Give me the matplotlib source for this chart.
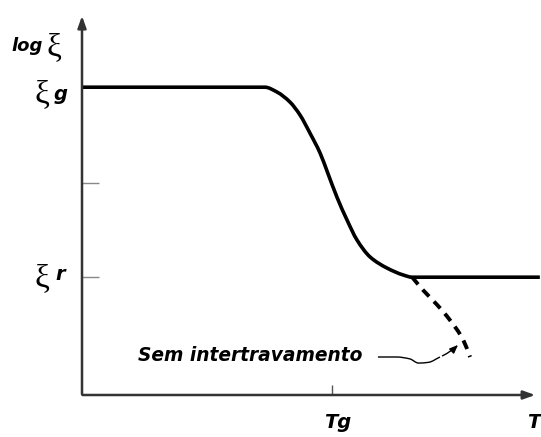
import matplotlib
matplotlib.use("Agg")
import matplotlib.pyplot as plt
from matplotlib.path import Path
from matplotlib.patches import PathPatch

# Schematic data (T in arbitrary units, log xi in arbitrary units)
T_main = [0.0, 4.01, 4.28, 4.56, 4.78, 5.00, 5.22, 5.39, 5.59, 5.81, 6.03, 6.32, 6.69, 7.04, 7.24, 10.04]
L_main = [8.1, 8.1, 7.97, 7.71, 7.37, 6.89, 6.37, 5.84, 5.21, 4.61, 4.08, 3.63, 3.34, 3.16, 3.1, 3.1]

T_dash = [7.24, 7.48, 7.79, 8.07, 8.36, 8.51]
L_dash = [3.1, 2.76, 2.37, 1.97, 1.45, 1.0]

xi_g = 8.1
xi_r = 3.1
T_g = 5.48
y_mid_tick = 5.58


def smooth_path(xs, ys):
    """Monotone (PCHIP-style) cubic through the points, as Bezier path segments."""
    n = len(xs)
    h = [xs[i + 1] - xs[i] for i in range(n - 1)]
    d = [(ys[i + 1] - ys[i]) / h[i] for i in range(n - 1)]
    m = [0.0] * n
    m[0] = d[0]
    m[-1] = d[-1]
    for i in range(1, n - 1):
        if d[i - 1] * d[i] <= 0:
            m[i] = 0.0
        else:
            w1 = 2 * h[i] + h[i - 1]
            w2 = h[i] + 2 * h[i - 1]
            m[i] = (w1 + w2) / (w1 / d[i - 1] + w2 / d[i])
    verts = [(xs[0], ys[0])]
    codes = [Path.MOVETO]
    for i in range(n - 1):
        verts += [(xs[i] + h[i] / 3, ys[i] + m[i] * h[i] / 3),
                  (xs[i + 1] - h[i] / 3, ys[i + 1] - m[i + 1] * h[i] / 3),
                  (xs[i + 1], ys[i + 1])]
        codes += [Path.CURVE4] * 3
    return Path(verts, codes)


fig = plt.figure(figsize=(5.41, 4.37), dpi=100)
ax = fig.add_axes([82/541, (437-395)/437, 456/541, 380/437])
ax.set_xlim(0, 10)
ax.set_ylim(0, 10)
for s in ax.spines.values():
    s.set_visible(False)

axis_col = "#333333"
ax.annotate("", xy=(0, 1.005), xytext=(0, -0.005), xycoords="axes fraction",
            arrowprops=dict(arrowstyle="-|>,head_length=0.7,head_width=0.25",
                            color=axis_col, lw=1.8), annotation_clip=False)
ax.annotate("", xy=(1.0, 0), xytext=(-0.005, 0), xycoords="axes fraction",
            arrowprops=dict(arrowstyle="-|>,head_length=0.7,head_width=0.25",
                            color=axis_col, lw=1.8), annotation_clip=False)

ax.set_xticks([T_g])
ax.set_yticks([xi_r, y_mid_tick])
ax.tick_params(axis="y", direction="in", length=12, width=1.0, colors="#888888", labelleft=False)
ax.tick_params(axis="x", direction="in", length=7, width=1.0, colors="#555555", labelbottom=False)

ax.add_patch(PathPatch(smooth_path(T_main, L_main), fill=False, edgecolor="black",
                       lw=2.6, clip_on=False, capstyle="butt", joinstyle="round"))
ax.add_patch(PathPatch(smooth_path(T_dash, L_dash), fill=False, edgecolor="black",
                       lw=2.8, linestyle=(0, (2.4, 1.8)), clip_on=False))

bi = dict(family="DejaVu Sans", weight="bold", style="italic")
xi_font = dict(family="Liberation Serif")
xi_col = "#000000"

fig.text(11/541, 1 - 46/437, "log", fontsize=13, va="center", ha="left", **bi)
fig.text(47/541, 1 - 48/437, "ξ", fontsize=24, va="center", ha="left", color=xi_col, **xi_font)
fig.text(35/541, 1 - 95/437, "ξ", fontsize=24, va="center", ha="left", color=xi_col, **xi_font)
fig.text(54/541, 1 - 95/437, "g", fontsize=14, va="center", ha="left", **bi)
fig.text(35/541, 1 - 279/437, "ξ", fontsize=24, va="center", ha="left", color=xi_col, **xi_font)
fig.text(55/541, 1 - 275/437, "r", fontsize=14, va="center", ha="left", **bi)

fig.text(338/541, 1 - 423/437, "Tg", fontsize=14, va="center", ha="center", **bi)
fig.text(540/541, 1 - 423/437, "T", fontsize=14, va="center", ha="right", **bi)

ax.text(1.23, 1.03, "Sem intertravamento", fontsize=13.4, va="center", ha="left", **bi)
ax.add_patch(PathPatch(smooth_path([6.49, 6.9, 7.19, 7.38, 7.6, 7.85],
                                   [1.0, 1.0, 0.95, 0.84, 0.86, 1.0]),
                       fill=False, edgecolor="black", lw=1.0, clip_on=False))
ax.annotate("", xy=(8.29, 1.37), xytext=(7.85, 1.0),
            arrowprops=dict(arrowstyle="-|>,head_length=0.5,head_width=0.2",
                            color="black", lw=1.0, connectionstyle="arc3,rad=0.1"))

fig.savefig("out.png", dpi=100)
